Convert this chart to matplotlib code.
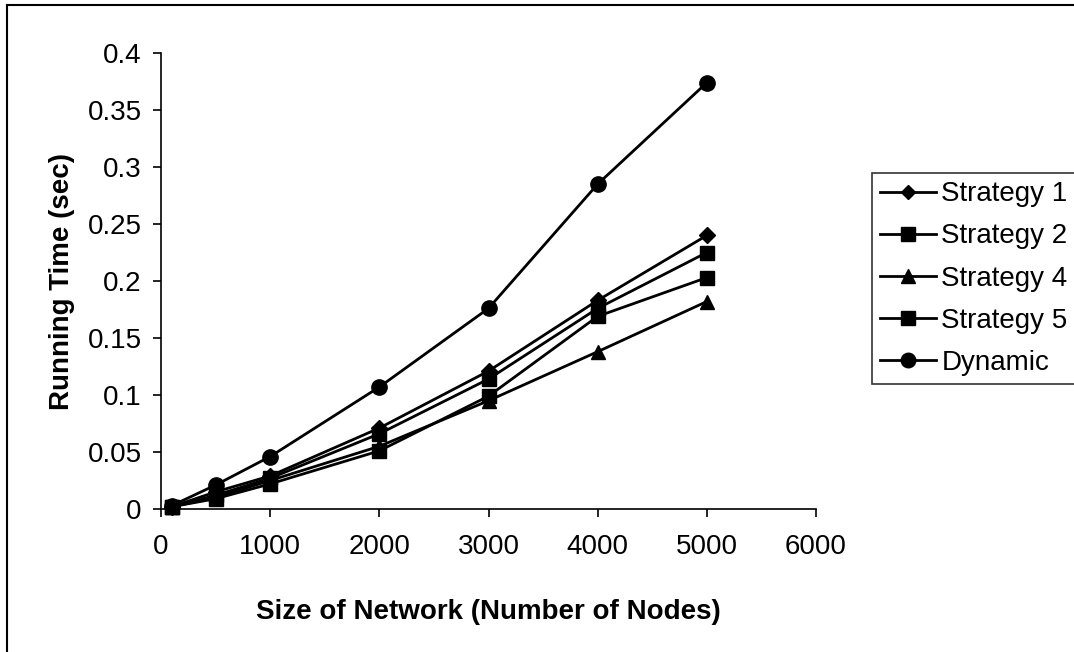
import matplotlib
matplotlib.use("Agg")
import matplotlib.pyplot as plt
from matplotlib.lines import Line2D

plt.rcParams['font.family'] = ['Liberation Sans', 'DejaVu Sans']

nodes = [100, 500, 1000, 2000, 3000, 4000, 5000]
strategy1 = [0.002, 0.015, 0.029, 0.071, 0.121, 0.183, 0.240]
strategy2 = [0.002, 0.012, 0.027, 0.066, 0.114, 0.176, 0.225]
strategy4 = [0.002, 0.010, 0.025, 0.055, 0.095, 0.138, 0.182]
strategy5 = [0.002, 0.009, 0.022, 0.051, 0.099, 0.169, 0.203]
dynamic = [0.003, 0.021, 0.046, 0.107, 0.176, 0.285, 0.374]

series_names = ["Strategy 1", "Strategy 2", "Strategy 4", "Strategy 5", "Dynamic"]
series_values = [strategy1, strategy2, strategy4, strategy5, dynamic]
markers = ["D", "s", "^", "s", "o"]
msizes = [8, 10, 10, 10, 11]

x_ticks = [0, 1000, 2000, 3000, 4000, 5000, 6000]
y_ticks = [0, 0.05, 0.1, 0.15, 0.2, 0.25, 0.3, 0.35, 0.4]
y_ticklabels = ["0", "0.05", "0.1", "0.15", "0.2", "0.25", "0.3", "0.35", "0.4"]

W, H = 1074, 652
FS = 20
fig = plt.figure(figsize=(W / 100, H / 100), dpi=100)
ax = fig.add_axes([161 / W, (H - 509) / H, 655 / W, 456 / H])

handles = []
for name, vals, m, ms in zip(series_names, series_values, markers, msizes):
    h, = ax.plot(nodes, vals, color="black", lw=2.0, marker=m, markersize=ms,
                 markerfacecolor="black", markeredgecolor="black", label=name,
                 clip_on=False)
    handles.append(h)

ax.set_xlim(0, 6000)
ax.set_ylim(0, 0.4)
ax.set_xticks(x_ticks)
ax.set_yticks(y_ticks)
ax.set_yticklabels(y_ticklabels)
for s in ["top", "right"]:
    ax.spines[s].set_visible(False)
for s in ["left", "bottom"]:
    ax.spines[s].set_linewidth(1.2)
ax.tick_params(axis="both", direction="out", length=6, width=1.2, labelsize=FS,
               colors="black")
ax.tick_params(axis="y", pad=8)
ax.tick_params(axis="x", pad=12)

ax.set_xlabel("Size of Network (Number of Nodes)", fontsize=FS, fontweight="bold",
              labelpad=28)
ax.set_ylabel("Running Time (sec)", fontsize=FS, fontweight="bold", labelpad=9)

leg = fig.legend(handles=handles, labels=series_names, loc="upper left",
                 bbox_to_anchor=(872 / W, 1 - 173 / H), fontsize=FS,
                 frameon=True, fancybox=False, shadow=False, borderaxespad=0,
                 handlelength=2.0, handletextpad=0.2, labelspacing=0.58,
                 borderpad=0.3, markerscale=0.95)
leg.get_frame().set_edgecolor("black")
leg.get_frame().set_linewidth(1.2)

# outer chart-area border
fig.add_artist(Line2D([7 / W, 1.0], [1 - 5 / H, 1 - 5 / H], color="black", lw=1.5,
                      transform=fig.transFigure))
fig.add_artist(Line2D([7 / W, 7 / W], [0, 1 - 5 / H], color="black", lw=1.5,
                      transform=fig.transFigure))

fig.savefig("out.png", dpi=100)
